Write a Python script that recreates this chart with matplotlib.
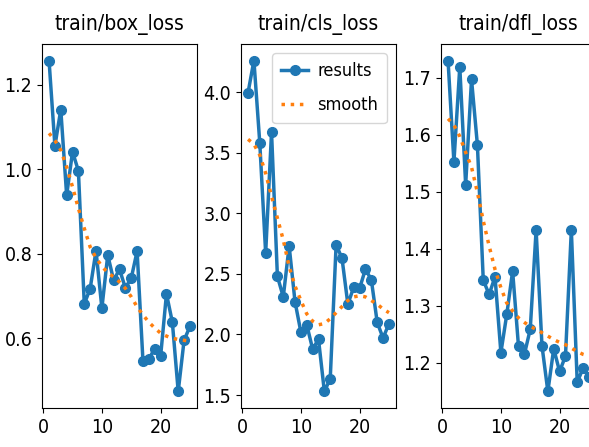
import numpy as np
import matplotlib
matplotlib.use('Agg')
from matplotlib import pyplot as plt
from matplotlib.ticker import MultipleLocator

plt.rcParams['font.family'] = ['DejaVu Sans']
plt.rcParams['font.stretch'] = 'condensed'

epochs = list(range(1, 26))

# train/box_loss
box_loss = [1.257, 1.055, 1.141, 0.938, 1.041, 0.996, 0.681, 0.717, 0.807, 0.671,
            0.797, 0.737, 0.763, 0.719, 0.742, 0.806, 0.545, 0.551, 0.575, 0.557,
            0.705, 0.638, 0.474, 0.595, 0.628]
box_smooth = [1.085, 1.068, 1.045, 1.005, 0.958, 0.907, 0.860, 0.816, 0.790, 0.770,
              0.755, 0.745, 0.733, 0.718, 0.698, 0.674, 0.655, 0.638, 0.624, 0.612,
              0.605, 0.600, 0.597, 0.595, 0.593]

# train/cls_loss
cls_loss = [3.995, 4.26, 3.58, 2.67, 3.67, 2.48, 2.31, 2.73, 2.27, 2.02,
            2.08, 1.88, 1.96, 1.53, 1.635, 2.74, 2.63, 2.25, 2.39, 2.38,
            2.54, 2.45, 2.10, 1.97, 2.09]
cls_smooth = [3.61, 3.57, 3.48, 3.33, 3.14, 2.96, 2.78, 2.56, 2.40, 2.28,
              2.17, 2.11, 2.08, 2.09, 2.13, 2.18, 2.23, 2.28, 2.31, 2.32,
              2.31, 2.28, 2.25, 2.21, 2.18]

# train/dfl_loss
dfl_loss = [1.730, 1.552, 1.719, 1.512, 1.697, 1.582, 1.345, 1.320, 1.351, 1.218,
            1.285, 1.361, 1.229, 1.215, 1.259, 1.433, 1.230, 1.150, 1.225, 1.185,
            1.212, 1.433, 1.166, 1.191, 1.175]
dfl_smooth = [1.628, 1.617, 1.597, 1.569, 1.543, 1.499, 1.449, 1.405, 1.364, 1.332,
              1.305, 1.291, 1.279, 1.271, 1.264, 1.259, 1.253, 1.247, 1.241, 1.236,
              1.232, 1.226, 1.220, 1.215, 1.212]

titles = ['train/box_loss', 'train/cls_loss', 'train/dfl_loss']
series = [(box_loss, box_smooth), (cls_loss, cls_smooth), (dfl_loss, dfl_smooth)]
ysteps = [0.2, 0.5, 0.1]

fig = plt.figure(figsize=(5.89, 4.47), dpi=100)
lefts = [42, 241, 441]
for i, (title, (y, ys)) in enumerate(zip(titles, series)):
    ax = fig.add_axes([lefts[i] / 589, 39 / 447, 155 / 589, 364 / 447])
    ax.plot(epochs, y, marker='.', label='results', linewidth=2.5, markersize=14)
    ax.plot(epochs, ys, ':', label='smooth', linewidth=2.5)
    ax.set_title(title, fontsize=15, pad=10)
    ax.tick_params(labelsize=14)
    ax.xaxis.set_major_locator(MultipleLocator(10))
    ax.yaxis.set_major_locator(MultipleLocator(ysteps[i]))
    if i == 1:
        ax.legend(fontsize=13, loc='upper right', handlelength=1.5,
                  handletextpad=0.5, labelspacing=0.9, borderpad=0.5)

fig.savefig('out.png', dpi=100)
